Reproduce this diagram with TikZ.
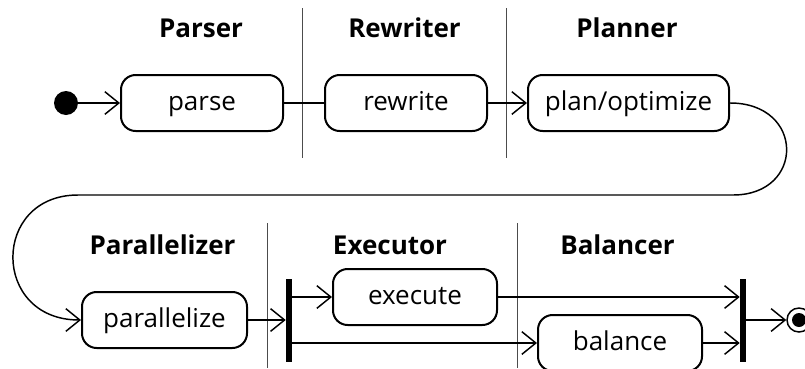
\documentclass[tikz,border=0pt]{standalone}
\usepackage{fontspec}
\setmainfont{Open Sans}
\usetikzlibrary{arrows.meta}
\begin{document}
\begin{tikzpicture}[x=0.75pt,y=-0.75pt,
  act/.style={draw, line width=1.5pt, rounded corners=11pt,
    minimum width=#1*0.75pt, minimum height=42pt, inner sep=0pt,
    text height=15pt, text depth=4.5pt,
    font=\fontsize{19.5}{22}\selectfont},
  lanetitle/.style={inner sep=0pt, font=\bfseries\fontsize{19.5}{22}\selectfont},
  flow/.style={line width=1.1pt,
    -{Straight Barb[length=10.5pt,width=17pt,line width=1.1pt]}},
  plain/.style={line width=1.1pt},
  syncbar/.style={fill=black, inner sep=0pt, minimum width=4.5pt, minimum height=62pt},
  swim/.style={line width=0.7pt, draw=black!70}]

\useasboundingbox (0,0) rectangle (805,368);

% swimlane titles
\node[lanetitle] (tParser)   at (201,28)   {Parser};
\node[lanetitle] (tRewriter) at (404.5,28) {Rewriter};
\node[lanetitle] (tPlanner)  at (627,28)   {Planner};
\node[lanetitle] (tPar)      at (162.5,245) {Parallelizer};
\node[lanetitle] (tExec)     at (390,245)  {Executor};
\node[lanetitle] (tBal)      at (617.5,245) {Balancer};

% swimlane separators
\draw[swim] (302,8) -- (302,158);
\draw[swim] (506,8) -- (506,158);
\draw[swim] (267,223) -- (267,368);
\draw[swim] (517,223) -- (517,368);

% start and end states
\node[circle, fill=black, inner sep=0pt, minimum size=18pt] (start) at (66,103) {};
\node[circle, draw, line width=1.1pt, inner sep=0pt, minimum size=18pt] (stop) at (799,320) {};
\node[circle, fill=black, inner sep=0pt, minimum size=10.5pt] (stopdot) at (stop.center) {};

% activities
\node[act=162] (parse)   at (202,103)   {parse};
\node[act=162] (rewrite) at (406,103)   {rewrite};
\node[act=201] (plan)    at (628.5,103) {plan/optimize};
\node[act=165] (par)     at (164.5,320) {parallelize};
\node[act=164] (exec)    at (415,297)   {execute};
\node[act=164] (bal)     at (620,343)   {balance};

% fork and join bars
\node[syncbar] (fork) at (289,320.5) {};
\node[syncbar] (join) at (743,320.5) {};

% control flow
\draw[flow]  (start) -- (parse);
\draw[plain] (parse) -- (rewrite);
\draw[flow]  (rewrite) -- (plan);
\draw[flow]  (plan.east) .. controls (805,103) and (805,195) .. (733,195)
             -- (78,195) .. controls (-9,195) and (-9,320) .. (par.west);
\draw[flow]  (par) -- (par -| fork.west);
\draw[flow]  (fork.east |- exec.west) -- (exec.west);
\draw[flow]  (fork.east |- bal.west) -- (bal.west);
\draw[flow]  (exec.east) -- (exec -| join.west);
\draw[flow]  (bal.east) -- (bal -| join.west);
\draw[flow]  (join.east |- stop) -- (stop.west);

\end{tikzpicture}
\end{document}
